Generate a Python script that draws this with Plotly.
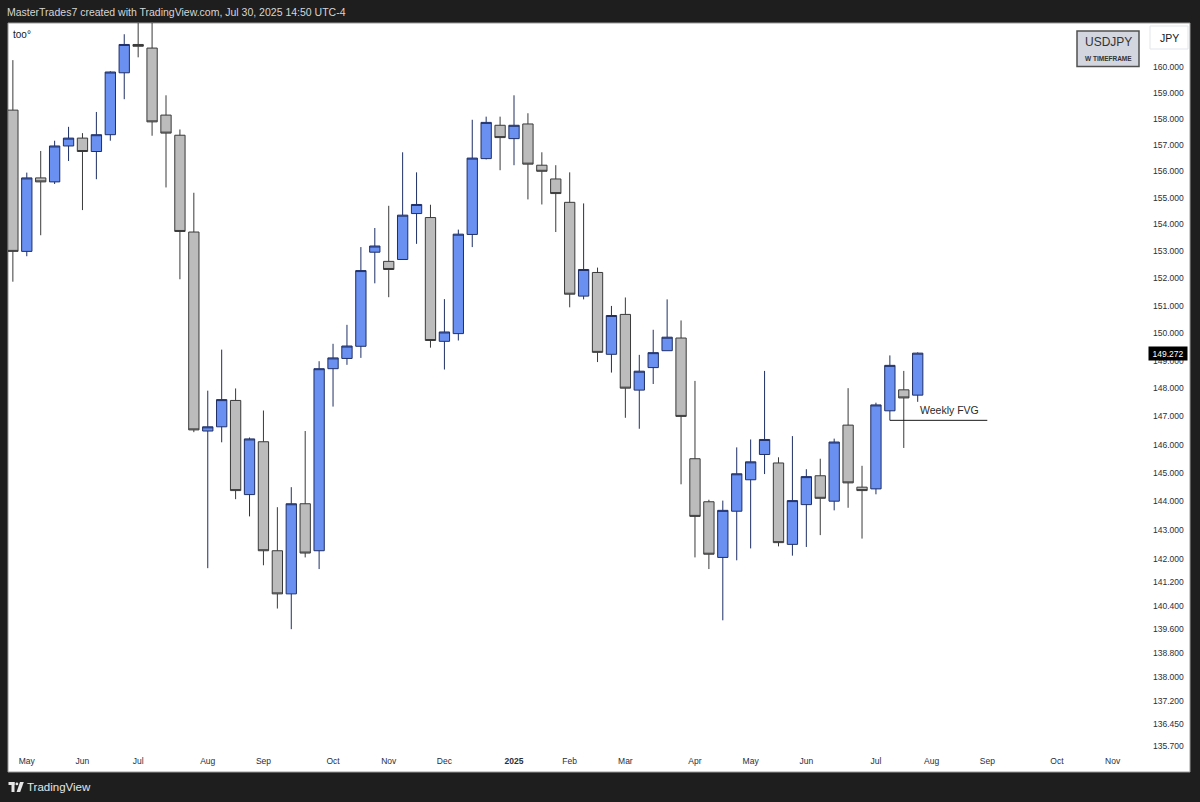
import math

import pandas as pd
import plotly.graph_objects as go

# weekly USDJPY bars, one per Monday
weeks = pd.date_range("2024-04-29", "2025-07-28", freq="W-MON")

opens = [
    158.33, 153.00, 155.75, 155.60, 156.96, 157.26, 156.75, 157.39, 159.77, 160.87,
    160.73, 158.14, 157.37, 153.72, 146.48, 146.63, 147.57, 144.24, 146.10, 142.29,
    140.81, 143.92, 142.29, 148.71, 149.08, 149.52, 152.97, 152.63, 152.70, 154.41,
    154.26, 149.70, 149.98, 153.63, 156.48, 157.75, 157.24, 157.80, 156.23, 155.71,
    154.83, 151.35, 152.22, 149.23, 150.68, 147.94, 148.75, 149.36, 149.82, 145.50,
    143.99, 142.06, 143.66, 144.76, 145.65, 145.35, 142.51, 143.89, 144.90, 144.01,
    146.69, 144.50, 144.44, 147.20, 147.95, 147.76,
]
highs = [
    160.26, 155.95, 156.77, 157.16, 157.69, 157.45, 158.26, 159.83, 161.27, 161.95,
    161.76, 158.90, 157.59, 155.19, 147.92, 149.40, 148.00, 146.25, 147.21, 143.80,
    144.50, 146.48, 148.98, 149.61, 150.30, 153.16, 153.87, 154.70, 156.72, 155.96,
    154.74, 151.24, 153.81, 157.96, 158.08, 158.08, 158.90, 158.21, 156.72, 156.23,
    155.96, 154.79, 152.40, 150.99, 151.30, 149.21, 150.12, 151.23, 150.46, 148.27,
    144.06, 144.03, 145.90, 146.18, 148.63, 145.55, 146.30, 145.13, 145.50, 146.21,
    148.01, 145.25, 147.49, 149.19, 148.63, 149.30,
]
lows = [
    151.88, 152.82, 153.60, 155.52, 156.39, 154.54, 155.70, 157.16, 158.75, 160.37,
    157.35, 155.39, 151.97, 146.44, 141.69, 146.08, 144.08, 143.48, 141.79, 140.31,
    139.61, 142.06, 141.66, 147.35, 148.85, 149.10, 151.82, 151.31, 152.70, 153.28,
    149.47, 148.68, 149.73, 153.16, 156.45, 156.04, 156.23, 154.94, 154.75, 153.72,
    150.94, 151.23, 148.95, 148.57, 146.95, 146.56, 148.16, 149.36, 144.60, 142.06,
    141.66, 139.91, 141.96, 142.37, 144.96, 142.44, 142.12, 142.42, 142.83, 143.69,
    143.78, 142.71, 144.25, 146.86, 145.88, 147.52,
]
closes = [
    153.00, 155.75, 155.60, 156.96, 157.26, 156.75, 157.39, 159.80, 160.87, 160.80,
    157.88, 157.45, 153.74, 146.52, 146.63, 147.60, 144.38, 146.20, 142.29, 140.81,
    143.92, 142.21, 148.71, 149.10, 149.53, 152.29, 153.20, 152.33, 154.35, 154.75,
    149.73, 150.04, 153.64, 156.50, 157.86, 157.28, 157.75, 156.27, 156.00, 155.16,
    151.42, 152.33, 149.30, 150.64, 148.01, 148.62, 149.29, 149.85, 147.00, 143.48,
    142.17, 143.69, 144.97, 145.39, 146.18, 142.57, 144.03, 144.87, 144.11, 146.09,
    144.65, 144.38, 147.41, 148.83, 147.66, 149.272,
]

price_ticks = [160, 159, 158, 157, 156, 155, 154, 153, 152, 151, 150, 149, 148, 147, 146,
               145, 144, 143, 142, 141.2, 140.4, 139.6, 138.8, 138, 137.2, 136.45, 135.7]
month_ticks = ["2024-05-06", "2024-06-03", "2024-07-01", "2024-08-05", "2024-09-02",
               "2024-10-07", "2024-11-04", "2024-12-02", "2025-01-06", "2025-02-03",
               "2025-03-03", "2025-04-07", "2025-05-05", "2025-06-02", "2025-07-07",
               "2025-08-04", "2025-09-01", "2025-10-06", "2025-11-03"]
month_labels = ["May", "Jun", "Jul", "Aug", "Sep", "Oct", "Nov", "Dec", "<b>2025</b>", "Feb",
                "Mar", "Apr", "May", "Jun", "Jul", "Aug", "Sep", "Oct", "Nov"]

last_price = 149.272
fvg_level = 146.86
fvg_start = "2025-07-14"
fvg_label = "Weekly FVG"

W, H = 1200, 802
L, R, T, B = 8, 55, 23, 52
PW, PH = W - L - R, H - T - B
FONT = "Liberation Sans"


def px(x):
    return (x - L) / PW


def py(y):
    return (H - B - y) / PH


bar0 = pd.Timestamp("2024-05-06")
x_range = [bar0 + pd.Timedelta(days=-9.45), bar0 + pd.Timedelta(days=562.3)]

fig = go.Figure()
fig.add_trace(go.Candlestick(
    x=weeks, open=opens, high=highs, low=lows, close=closes,
    increasing=dict(fillcolor="#6a90f2", line=dict(color="#1f2f66", width=1)),
    decreasing=dict(fillcolor="#bcbcbc", line=dict(color="#3a3a3a", width=1)),
    whiskerwidth=0, showlegend=False, hoverinfo="skip",
))

shapes = [
    # white chart canvas
    dict(type="rect", xref="paper", yref="paper", x0=px(8), x1=px(1190), y0=py(772), y1=py(23),
         fillcolor="white", line=dict(color="#9a9a9a", width=1), layer="below"),
    # symbol box
    dict(type="rect", xref="paper", yref="paper", x0=px(1077), x1=px(1139), y0=py(66.5), y1=py(31),
         fillcolor="#d3d6de", line=dict(color="#505050", width=1.5)),
    # currency box
    dict(type="rect", xref="paper", yref="paper", x0=px(1150), x1=px(1188), y0=py(49), y1=py(26),
         fillcolor="white", line=dict(color="#e3e5ea", width=1)),
    # weekly FVG line
    dict(type="line", xref="x", yref="y", x0=fvg_start,
         x1=pd.Timestamp(fvg_start) + pd.Timedelta(days=49), y0=fvg_level, y1=fvg_level,
         line=dict(color="#1a1a1a", width=1)),
    # TradingView logo (rough)
    dict(type="rect", xref="paper", yref="paper", x0=px(8.5), x1=px(14.5), y0=py(785), y1=py(782),
         fillcolor="#e6e6e6", line=dict(width=0)),
    dict(type="rect", xref="paper", yref="paper", x0=px(11.5), x1=px(14.5), y0=py(792), y1=py(782),
         fillcolor="#e6e6e6", line=dict(width=0)),
    dict(type="circle", xref="paper", yref="paper", x0=px(15.5), x1=px(18.3), y0=py(785.3), y1=py(782.5),
         fillcolor="#e6e6e6", line=dict(width=0)),
    dict(type="path", xref="paper", yref="paper",
         path=f"M {px(20)},{py(782)} L {px(23.8)},{py(782)} L {px(20.2)},{py(792)} L {px(16.6)},{py(792)} Z",
         fillcolor="#e6e6e6", line=dict(width=0)),
]

annotations = [
    dict(xref="paper", yref="paper", x=px(5), y=py(11.5), xanchor="left", yanchor="middle",
         text="MasterTrades7 created with TradingView.com, Jul 30, 2025 14:50 UTC-4",
         font=dict(family=FONT, size=10.5, color="#d6d6d6"), showarrow=False),
    dict(xref="paper", yref="paper", x=px(11), y=py(35), xanchor="left", yanchor="middle",
         text="too°", font=dict(family=FONT, size=10, color="#131722"), showarrow=False),
    dict(xref="paper", yref="paper", x=px(1108), y=py(41.5), xanchor="center", yanchor="middle",
         text="USDJPY", font=dict(family=FONT, size=12, color="#333333"), showarrow=False),
    dict(xref="paper", yref="paper", x=px(1108), y=py(59), xanchor="center", yanchor="middle",
         text="<b>W TIMEFRAME</b>", font=dict(family=FONT, size=6.5, color="#333333"), showarrow=False),
    dict(xref="paper", yref="paper", x=px(1169), y=py(38), xanchor="center", yanchor="middle",
         text="JPY", font=dict(family=FONT, size=10.5, color="#131722"), showarrow=False),
    # last price tag
    dict(xref="paper", yref="y", x=px(1168), y=math.log10(last_price), xanchor="center", yanchor="middle",
         text=f"{last_price:.3f}", font=dict(family=FONT, size=8.5, color="white"),
         bgcolor="black", width=36, height=11, borderpad=1, showarrow=False),
    dict(xref="x", yref="y", x=pd.Timestamp(fvg_start) + pd.Timedelta(days=14), y=math.log10(147.22),
         xanchor="left", yanchor="middle", text=fvg_label,
         font=dict(family=FONT, size=10.5, color="#2a2a2a"), showarrow=False),
    dict(xref="paper", yref="paper", x=px(25), y=py(787), xanchor="left", yanchor="middle",
         text="TradingView", font=dict(family=FONT, size=11.5, color="#e6e6e6"), showarrow=False),
]

fig.update_layout(
    width=W, height=H,
    margin=dict(l=L, r=R, t=T, b=B),
    paper_bgcolor="#1e1e1e", plot_bgcolor="white",
    boxgap=0.26, boxgroupgap=0,
    shapes=shapes, annotations=annotations,
    xaxis=dict(
        type="date", range=x_range, rangeslider=dict(visible=False),
        tickvals=month_ticks, ticktext=month_labels, ticks="",
        ticklabelstandoff=4,
        tickfont=dict(family=FONT, size=8.5, color="#2a2e39"),
        showgrid=False, zeroline=False, showline=False,
    ),
    yaxis=dict(
        type="log", side="right",
        range=[math.log10(135.58), math.log10(161.71)],
        tickvals=price_ticks, ticktext=[f"{v:.3f}" for v in price_ticks], ticks="",
        ticklabelstandoff=7,
        tickfont=dict(family=FONT, size=8.5, color="#2a2e39"),
        showgrid=False, zeroline=False, showline=False,
    ),
)

fig.write_html(
    "out.html",
    config={"displayModeBar": False},
    post_script="document.body.style.margin='0';document.body.style.overflow='hidden';",
)
